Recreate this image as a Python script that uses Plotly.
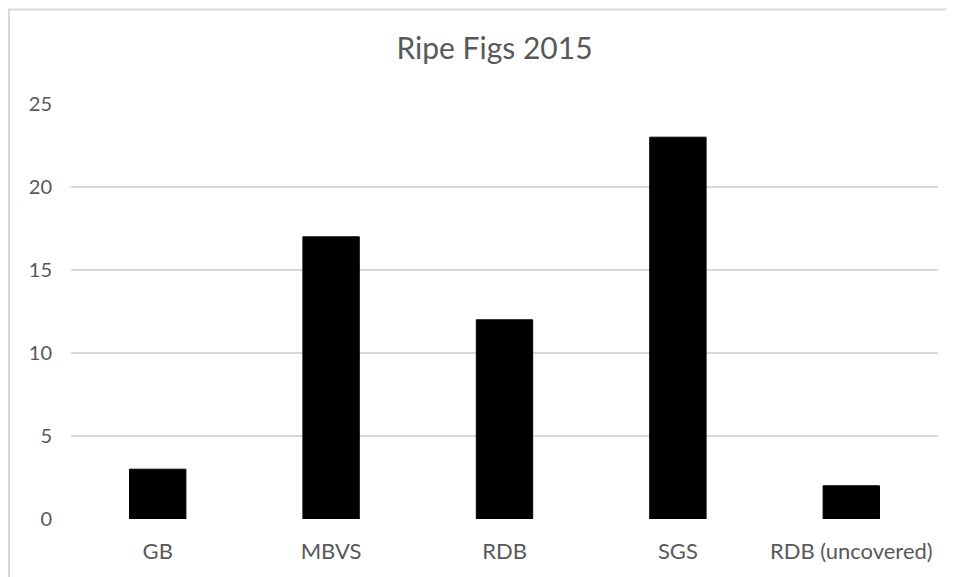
import plotly.graph_objects as go

categories = ["GB", "MBVS", "RDB", "SGS", "RDB (uncovered)"]
values = [3, 17, 12, 23, 2]
y_ticks = [0, 5, 10, 15, 20, 25]

# page body has an 8px margin; figure is sized/offset to compensate
W, H = 946, 569
L, R, T, B = 63, 16, 95.5, 58
pw = W - L - R
ph = H - T - B

fig = go.Figure(go.Bar(
    x=categories, y=values,
    marker=dict(color="black", line=dict(color="black", width=1)),
))

fig.update_layout(
    width=W, height=H,
    margin=dict(l=L, r=R, t=T, b=B),
    paper_bgcolor="white", plot_bgcolor="white",
    bargap=0.675,
    showlegend=False,
    title=dict(text="Ripe Figs 2015", x=(486.5 - L) / pw, xref="paper", xanchor="center",
               y=1 - 40 / H, yanchor="middle",
               font=dict(family="Lato", size=30, color="#595959")),
    font=dict(family="Lato", size=20, color="#595959"),
    xaxis=dict(showgrid=False, showline=False, ticks="", ticklabelstandoff=17,
               tickfont=dict(size=22, color="#595959")),
    yaxis=dict(range=[0, 25], tickvals=y_ticks, showgrid=True, gridcolor="#d9d9d9",
               gridwidth=1.5, zeroline=False, showline=False, ticks="",
               ticklabelstandoff=18, tickfont=dict(size=20, color="#595959")),
    shapes=[dict(type="rect", xref="paper", yref="paper",
                 x0=(1 - L) / pw, x1=1.2, y0=-0.5, y1=(H - B - 1) / ph,
                 line=dict(color="#d9d9d9", width=2), fillcolor="rgba(0,0,0,0)", layer="below")],
)

fig.write_html("out.html")
